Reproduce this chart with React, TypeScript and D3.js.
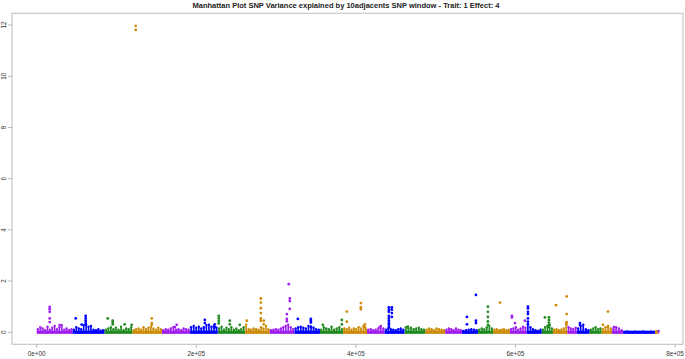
import React from 'react'
import * as d3 from 'd3'

const width = 685
const height = 359
const box = {left: 12, right: 683, top: 13.3, bottom: 344.3}

const title =
  'Manhattan Plot SNP Variance explained by 10adjacents SNP window - Trait: 1 Effect: 4'

// chromosome starts, SNP index (thousands)
const chrStart = [
  0, 45, 85, 120, 157, 192, 227, 261, 292, 323, 355, 384, 414, 436, 461, 487,
  512, 533, 553, 572, 593, 614, 633, 647, 665, 677, 693, 708, 721, 735, 775, 779,
]
const lastSnp = 780
const palette = ['#A020F0', '#0000FF', '#228B22', '#CD8C0A']
const chrColor = [
  0, 1, 2, 3, 0, 1, 2, 3, 0, 1, 2, 3, 0, 1, 2, 3, 0, 1, 2, 3, 0, 1, 2, 3, 0, 1,
  2, 3, 0, 1, 3, 0,
]

// low level variance along each chromosome
const lowLevel = [
  [0.12, 0.2, 0.15, 0.08, 0.22, 0.1, 0.18, 0.25, 0.12, 0.2, 0.28, 0.1, 0.15, 0.08, 0.12],
  [0.1, 0.2, 0.15, 0.12, 0.28, 0.3, 0.22, 0.25, 0.1, 0.08, 0.12, 0.06, 0.08],
  [0.1, 0.15, 0.2, 0.12, 0.18, 0.1, 0.22, 0.08, 0.15, 0.12, 0.2],
  [0.08, 0.12, 0.15, 0.1, 0.2, 0.12, 0.18, 0.22, 0.15, 0.1, 0.18, 0.12],
  [0.08, 0.12, 0.1, 0.15, 0.2, 0.1, 0.12, 0.08, 0.15, 0.12, 0.1],
  [0.2, 0.25, 0.18, 0.22, 0.15, 0.2, 0.28, 0.3, 0.22, 0.25, 0.18],
  [0.15, 0.22, 0.1, 0.18, 0.12, 0.2, 0.1, 0.15, 0.08, 0.12, 0.2],
  [0.3, 0.12, 0.1, 0.15, 0.12, 0.1, 0.2, 0.15, 0.25, 0.12],
  [0.08, 0.1, 0.12, 0.1, 0.15, 0.2, 0.25, 0.3, 0.2, 0.12],
  [0.15, 0.2, 0.22, 0.18, 0.15, 0.25, 0.2, 0.18, 0.12, 0.1],
  [0.1, 0.2, 0.15, 0.12, 0.22, 0.1, 0.15, 0.2, 0.12],
  [0.15, 0.12, 0.18, 0.1, 0.15, 0.12, 0.2, 0.15, 0.25, 0.12],
  [0.1, 0.12, 0.08, 0.1, 0.15, 0.25, 0.15],
  [0.1, 0.15, 0.12, 0.1, 0.08, 0.12, 0.15, 0.1],
  [0.2, 0.15, 0.18, 0.12, 0.15, 0.18, 0.12, 0.1],
  [0.1, 0.15, 0.12, 0.08, 0.15, 0.12, 0.1, 0.08],
  [0.1, 0.15, 0.12, 0.08, 0.15, 0.1, 0.08],
  [0.05, 0.08, 0.1, 0.12, 0.1, 0.08],
  [0.1, 0.15, 0.12, 0.2, 0.25, 0.15],
  [0.1, 0.12, 0.08, 0.1, 0.12, 0.08, 0.1],
  [0.12, 0.15, 0.2, 0.1, 0.15, 0.22, 0.18],
  [0.3, 0.2, 0.12, 0.08, 0.05, 0.1],
  [0.1, 0.2, 0.25, 0.3, 0.15],
  [0.1, 0.12, 0.08, 0.1, 0.15, 0.35],
  [0.2, 0.15, 0.12, 0.18],
  [0.15, 0.25, 0.3, 0.12, 0.08],
  [0.1, 0.15, 0.2, 0.12, 0.15],
  [0.12, 0.2, 0.25, 0.15],
  [0.12, 0.2, 0.15, 0.08],
  [0.03, 0.02, 0.03, 0.02],
  [0.05],
  [0.05],
]

// windows standing out of the background
const hitPos = [
  16.3, 28.8, 48.9, 56.4, 61.4, 89.0, 95.3, 110.3, 119.1, 124.1, 144.2, 173.0,
  175.5, 210.7, 223.2, 228.2, 242.0, 254.5, 263.3, 280.9, 284.6, 316.0, 317.2,
  313.5, 327.3, 343.6, 358.6, 382.4, 388.7, 406.3, 411.3, 430.1, 441.4, 445.1,
  465.2, 539.2, 550.5, 565.5, 580.6, 595.6, 599.4, 611.9, 615.7, 637.0, 642.0,
  650.8, 664.2, 680.9, 709.7, 716.0, 723.5,
]
const hitVals = [
  [0.99, 0.9, 0.8, 0.54, 0.4], [0.28], [0.54], [0.3], [0.64, 0.54, 0.45, 0.36, 0.29],
  [0.54], [0.45, 0.38, 0.31], [0.31], [0.29], [11.97, 11.81], [0.54, 0.36, 0.29],
  [0.2], [0.29], [0.48, 0.36], [0.31, 0.2], [0.64, 0.54, 0.44, 0.35], [0.45, 0.31],
  [0.29], [0.45], [1.32, 1.16, 0.94, 0.75, 0.54, 0.45], [0.45, 0.31], [1.88],
  [1.32, 1.22, 0.91], [0.71, 0.52, 0.43], [0.52], [0.52, 0.45, 0.38, 0.22], [0.29],
  [0.48, 0.31], [0.81, 0.41], [1.14, 0.97, 0.9], [0.31, 0.2], [0.2],
  [0.97, 0.88, 0.8, 0.64, 0.54, 0.45, 0.36, 0.29, 0.2], [0.97, 0.88, 0.75, 0.6],
  [0.22], [0.6, 0.31], [1.46, 0.45, 0.36], [1.0, 0.8, 0.6, 0.42, 0.29], [1.16],
  [0.64, 0.58], [0.36], [0.45], [1.0, 0.93, 0.8, 0.71, 0.54, 0.41, 0.31], [0.58],
  [0.58, 0.48, 0.38, 0.29, 0.2], [1.06], [1.4, 0.71, 0.4, 0.3], [0.36, 0.28], [0.29],
  [0.81, 0.22], [0.2],
]

const yTicks = [0, 2, 4, 6, 8, 10, 12]
const xTicks = [0, 200000, 400000, 600000, 800000]

const x = d3.scaleLinear().domain([-30950, 810000]).range([box.left, box.right])
const y = d3.scaleLinear().domain([-0.47, 12.46]).range([box.bottom, box.top])

const fmtX = (v: number) => (v === 0 ? '0e+00' : `${v / 100000}e+05`)
const colorAt = (k: number) => palette[chrColor[d3.bisectRight(chrStart, k) - 1]]

const App = () => {
  const font = '"Liberation Sans", Arial, Helvetica, sans-serif'
  const y0 = y(0)

  const lowMarks = lowLevel.flatMap((vals, i) => {
    const s = chrStart[i] * 1000
    const e = (i + 1 < chrStart.length ? chrStart[i + 1] : lastSnp) * 1000
    const step = (e - s) / vals.length
    const w = Math.min(1.8, (x(s + step) - x(s)) * 0.65)
    return vals.map((v, j) => {
      const cx = x(s + (j + 0.5) * step)
      return {cx, w, top: y(v), c: palette[chrColor[i]], key: `${i}-${j}`}
    })
  })

  const bands = chrStart.map((s, i) => {
    const e = i + 1 < chrStart.length ? chrStart[i + 1] : lastSnp
    return {x0: x(s * 1000), x1: x(e * 1000), c: palette[chrColor[i]]}
  })

  const dots = hitPos.flatMap((p, i) =>
    hitVals[i].map((v, j) => ({cx: x(p * 1000), cy: y(v), c: colorAt(p), key: `${i}-${j}`})),
  )

  return (
    <svg
      width={width}
      height={height}
      style={{position: 'absolute', left: 0, top: 0, background: '#fff', fontFamily: font}}
    >
      <rect width={width} height={height} fill="#fff" />
      <text
        x={346}
        y={7.5}
        textAnchor="middle"
        fontSize={7}
        fontWeight="bold"
        fill="#222"
        textLength={307}
        lengthAdjust="spacingAndGlyphs"
      >
        {title}
      </text>

      {bands.map((b, i) => (
        <rect key={i} x={b.x0} y={y0 - 1.6} width={b.x1 - b.x0} height={3.2} fill={b.c} />
      ))}
      {lowMarks.map(m => (
        <g key={m.key}>
          <rect x={m.cx - m.w / 2} y={m.top} width={m.w} height={y0 - m.top} fill={m.c} />
          <circle cx={m.cx} cy={m.top} r={1.2} fill={m.c} />
        </g>
      ))}
      {dots.map(d => (
        <circle key={d.key} cx={d.cx} cy={d.cy} r={1.4} fill={d.c} />
      ))}

      <rect
        x={box.left}
        y={box.top}
        width={box.right - box.left}
        height={box.bottom - box.top}
        fill="none"
        stroke="#c8c8c8"
        strokeWidth={1.2}
      />
      {yTicks.map(t => (
        <g key={t}>
          <line x1={8} x2={box.left} y1={y(t)} y2={y(t)} stroke="#aaa" strokeWidth={0.8} />
          <text
            x={6.2}
            y={y(t)}
            transform={`rotate(-90, 6.2, ${y(t)})`}
            textAnchor="middle"
            fontSize={6.3}
            fill="#333"
          >
            {t}
          </text>
        </g>
      ))}
      {xTicks.map(t => (
        <g key={t}>
          <line x1={x(t)} x2={x(t)} y1={box.bottom} y2={box.bottom + 3.5} stroke="#aaa" strokeWidth={0.8} />
          <text x={x(t)} y={355.5} textAnchor="middle" fontSize={6.3} fill="#333">
            {fmtX(t)}
          </text>
        </g>
      ))}
    </svg>
  )
}

export default App
